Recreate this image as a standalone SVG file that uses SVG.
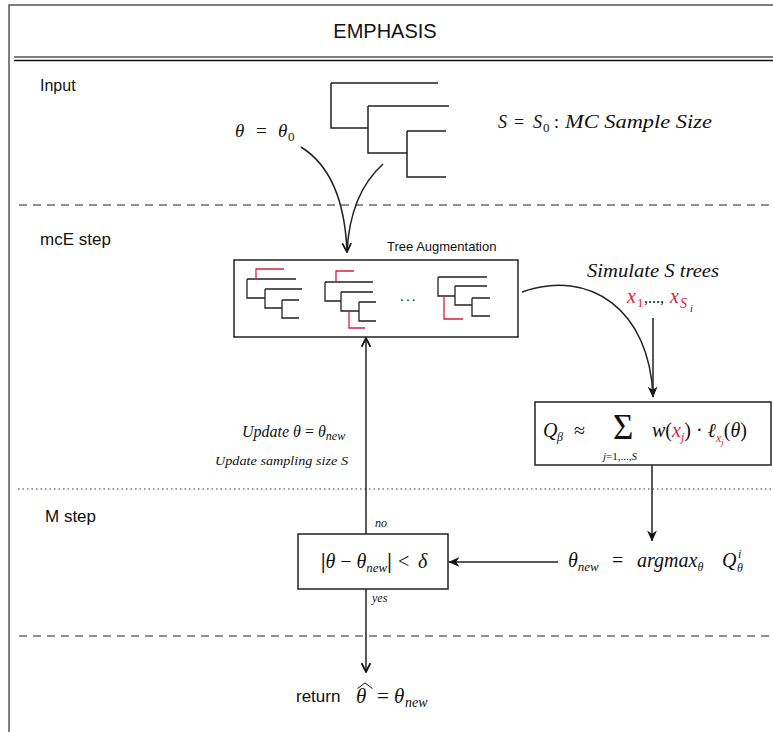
<svg xmlns="http://www.w3.org/2000/svg" width="773" height="732" viewBox="0 0 773 732">
<style>
.sans{font-family:"Liberation Sans",Arial,sans-serif;fill:#111}
.m{font-family:"Liberation Serif","DejaVu Serif",serif;font-style:italic;fill:#111}
.r{font-style:normal}
.red{fill:#dc1e3c}
.ln{stroke:#222;stroke-width:1.5;fill:none}
.tr{stroke:#222;stroke-width:1.3;fill:none}
.rt{stroke:#dc1e3c;stroke-width:1.3;fill:none}
.box{fill:#fff;stroke:#222;stroke-width:1.5}
.dash{stroke:#222;stroke-width:1.2;stroke-dasharray:8 6;fill:none}
.dot{stroke:#333;stroke-width:1.2;stroke-dasharray:1.5 3;fill:none}
</style>
<defs>
<marker id="open" viewBox="0 0 10 10" refX="9" refY="5" markerWidth="11" markerHeight="11" markerUnits="userSpaceOnUse" orient="auto">
<path d="M1,1 L9,5 L1,9" fill="none" stroke="#111" stroke-width="1.6"/>
</marker>
<marker id="classic" viewBox="0 0 10 10" refX="9.5" refY="5" markerWidth="11" markerHeight="11" markerUnits="userSpaceOnUse" orient="auto">
<path d="M0,0.5 L10,5 L0,9.5 L3,5 z" fill="#111"/>
</marker>
</defs>
<rect x="0" y="0" width="773" height="732" fill="#fff"/>
<g id="frame">
<rect x="9" y="5" width="790" height="760" fill="none" stroke="#555" stroke-width="1.5"/>
<text class="sans" x="385" y="38" font-size="20" text-anchor="middle">EMPHASIS</text>
<line x1="14" y1="57" x2="773" y2="57" stroke="#555" stroke-width="1.3"/>
<line x1="14" y1="60.5" x2="773" y2="60.5" stroke="#111" stroke-width="1.5"/>
<line class="dash" x1="19" y1="205" x2="773" y2="205"/>
<line class="dot" x1="18" y1="489" x2="773" y2="489"/>
<line class="dash" x1="19" y1="636" x2="773" y2="636"/>
<text class="sans" x="40" y="91" font-size="16">Input</text>
<text class="sans" x="40" y="245" font-size="17">mcE step</text>
<text class="sans" x="45" y="522" font-size="17">M step</text>
</g>
<g id="input-tree">
<path class="ln" d="M331,83 H438 M331,83 V128 H368 M368,106 H449 M368,106 V153 H407 M407,131 H446 M407,131 V177 H446" stroke-width="1.4"/>
</g>
<g id="theta0">
<text class="m" x="235" y="137" font-size="19">θ<tspan class="r" x="256">=</tspan><tspan x="278">θ</tspan><tspan class="r" x="288" dy="4" font-size="13">0</tspan></text>
</g>
<g id="sample-size">
<text class="m" x="498" y="128" font-size="18">S<tspan class="r" x="514">=</tspan><tspan x="533">S</tspan><tspan class="r" x="543" dy="4" font-size="13">0</tspan><tspan class="r" x="554" dy="-4">:</tspan><tspan x="565" textLength="147" lengthAdjust="spacingAndGlyphs">MC Sample Size</tspan></text>
</g>
<g id="tree-augmentation">
<rect class="box" x="234" y="260" width="284" height="77"/>
<text class="sans" x="387" y="251" font-size="13">Tree Augmentation</text>
<path class="tr" d="M247,279 H296 M247,279 V298 H265 M265,289 H302 M265,289 V308 H282 M282,300 H299 M282,300 V318 H299"/>
<path class="rt" d="M256,279 V269 H284"/>
<path class="tr" d="M325,282 H373 M325,282 V301 H341 M341,292 H373 M341,292 V311 H359 M359,302 H376 M359,302 V321 H376"/>
<path class="rt" d="M336,282 V271 H354 M349,311 V328 H365"/>
<text class="sans" x="400" y="301" font-size="14" letter-spacing="2">...</text>
<path class="tr" d="M438,277 H487 M438,277 V296 H455 M455,286 H487 M455,286 V305 H472 M472,298 H490 M472,298 V316 H490"/>
<path class="rt" d="M444,296 V319 H463"/>
</g>
<g id="simulate">
<text class="m" x="587" y="277" font-size="18" textLength="132" lengthAdjust="spacingAndGlyphs">Simulate S trees</text>
<text class="m" x="627" y="303" font-size="20"><tspan class="red">x</tspan><tspan class="r red" x="637" dy="4" font-size="13">1</tspan><tspan class="r" x="644" dy="-4" font-size="16">,...,</tspan><tspan class="red" x="670">x</tspan><tspan class="red" x="680" dy="5" font-size="14">S</tspan><tspan x="690" dy="4" font-size="10">i</tspan></text>
</g>
<g id="q-estimate">
<rect class="box" x="535" y="402" width="236" height="63"/>
<text class="m" x="543" y="437" font-size="20">Q<tspan x="557" dy="4" font-size="12">β</tspan><tspan class="r" x="574" dy="-4">≈</tspan></text>
<text class="m" x="613" y="439" font-size="35" style="font-style:normal">Σ</text>
<text class="m" x="603" y="460" font-size="11">j<tspan class="r">=1,...,</tspan>S</text>
<text class="m" x="652" y="437" font-size="20">w<tspan class="r">(</tspan><tspan class="red">x</tspan><tspan class="red" dy="4" font-size="12">j</tspan><tspan class="r" dy="-4">) · </tspan>ℓ<tspan class="red" dy="5" font-size="12">x</tspan><tspan class="red" dy="3" font-size="9">j</tspan><tspan class="r" dy="-8">(</tspan>θ<tspan class="r">)</tspan></text>
</g>
<g id="convergence-test">
<rect class="box" x="298" y="534" width="150" height="55"/>
<text class="m" x="321" y="568" font-size="20"><tspan class="r" font-weight="bold">|</tspan>θ<tspan class="r"> − </tspan>θ<tspan dy="4" font-size="13">new</tspan><tspan class="r" font-weight="bold" dy="-4">|</tspan><tspan class="r" x="398">&lt;</tspan><tspan x="418">δ</tspan></text>
</g>
<g id="argmax">
<text class="m" x="568" y="567" font-size="20">θ<tspan dy="4" font-size="13">new</tspan><tspan class="r" x="612" dy="-4">=</tspan><tspan x="637">argmax</tspan><tspan dy="4" font-size="12">θ</tspan><tspan x="722" dy="-4">Q</tspan><tspan x="738" dy="-9" font-size="12">i</tspan><tspan x="737" dy="14" font-size="12">θ</tspan></text>
</g>
<g id="update-labels">
<text class="m" x="242" y="437" font-size="16">Update θ <tspan class="r">=</tspan> θ<tspan dy="3" font-size="12">new</tspan></text>
<text class="m" x="215" y="465" font-size="13.5" textLength="133" lengthAdjust="spacingAndGlyphs">Update sampling size S</text>
<text class="m" x="375" y="527" font-size="12">no</text>
<text class="m" x="372" y="602" font-size="12">yes</text>
</g>
<g id="return">
<text class="sans" x="296" y="702" font-size="17">return</text>
<text class="m" x="356" y="703" font-size="21">θ<tspan class="r" x="377">=</tspan><tspan x="394">θ</tspan><tspan x="405" dy="4" font-size="14">new</tspan></text>
<path d="M357.5,688.5 L365,683 L372.5,688.5" fill="none" stroke="#111" stroke-width="1"/>
</g>
<g id="connectors">
<path class="ln" d="M301,147 C330,165 345,200 347,252" marker-end="url(#open)"/>
<path class="ln" d="M383,164 C362,183 349,212 347,252"/>
<path class="ln" d="M522,292 C590,268 650,310 653,397" marker-end="url(#classic)"/>
<line class="ln" x1="653" y1="318" x2="653" y2="397"/>
<line class="ln" x1="652" y1="465" x2="652" y2="541" marker-end="url(#classic)"/>
<line class="ln" x1="558" y1="562" x2="449" y2="562" marker-end="url(#classic)"/>
<line class="ln" x1="366" y1="534" x2="366" y2="338" marker-end="url(#open)"/>
<line class="ln" x1="366" y1="589" x2="366" y2="672" marker-end="url(#open)"/>
</g>
</svg>
